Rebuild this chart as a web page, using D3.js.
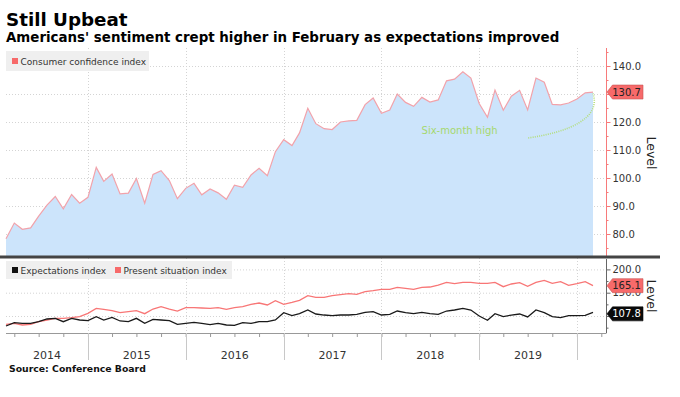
<!DOCTYPE html>
<html>
<head>
<meta charset="utf-8">
<script src="https://cdn.jsdelivr.net/npm/d3@7"></script>
<style>
  body { margin: 0; background: #fff; }
  svg { display: block; font-family: "DejaVu Sans", Verdana, sans-serif; }
</style>
</head>
<body>
<div id="chart"></div>
<script>
// monthly readings, Feb 2014 .. Feb 2020 (plotted at month end)
const firstMonth = new Date(2014, 1, 1);

const confidence = [
  78.3, 83.9, 81.7, 82.2, 86.4, 90.3, 93.4, 89.0, 94.1, 91.0, 93.1,
  103.8, 98.8, 101.4, 94.3, 94.6, 99.8, 91.0, 101.3, 102.6, 99.1, 92.6, 96.3,
  98.1, 94.0, 96.1, 94.7, 92.4, 97.4, 96.7, 101.1, 103.5, 100.8, 109.4, 113.7,
  111.6, 116.1, 124.9, 119.4, 117.6, 117.3, 120.0, 120.4, 120.6, 126.2, 128.6, 123.1,
  124.3, 130.0, 127.0, 125.6, 128.8, 127.1, 127.9, 134.7, 135.3, 137.9, 135.7, 126.6,
  121.7, 131.4, 124.2, 129.2, 131.3, 124.3, 135.7, 134.2, 126.3, 126.1, 126.8, 128.2,
  130.4, 130.7
];

const presentSituation = [
  82.2, 84.3, 80.7, 82.2, 87.8, 91.4, 95.0, 95.0, 96.4, 98.6, 105.7,
  116.4, 114.3, 111.4, 107.2, 109.3, 111.4, 105.0, 115.0, 120.0, 115.0, 110.7, 117.8,
  117.8, 117.2, 116.4, 117.8, 114.3, 117.8, 120.0, 125.0, 127.9, 123.6, 132.9, 125.0,
  129.3, 133.6, 143.6, 140.1, 140.1, 143.6, 145.8, 147.9, 146.5, 152.2, 154.4, 157.2,
  157.2, 161.5, 159.4, 157.2, 161.5, 162.2, 166.5, 172.2, 169.4, 172.2, 172.2, 170.1,
  170.1, 172.2, 162.9, 168.7, 171.5, 163.7, 172.2, 176.5, 170.1, 173.7, 165.8, 169.4,
  173.7, 165.1
];

const expectations = [
  78.5, 85.7, 84.2, 84.2, 87.8, 93.6, 95.0, 87.8, 95.0, 91.4, 90.0,
  98.6, 91.4, 97.1, 89.3, 87.8, 95.0, 84.2, 92.8, 91.4, 90.0, 82.2, 84.2,
  86.4, 84.3, 81.4, 84.3, 80.7, 80.0, 85.7, 84.3, 87.8, 87.8, 91.4, 107.1,
  100.7, 105.0, 112.9, 104.3, 102.1, 100.7, 102.1, 102.1, 103.6, 107.9, 109.3, 102.1,
  103.6, 110.7, 107.1, 105.0, 107.9, 105.0, 103.6, 110.7, 112.9, 116.5, 112.9, 100.0,
  90.7, 105.0, 98.6, 102.1, 104.3, 97.9, 112.9, 107.1, 98.6, 96.4, 100.7, 100.7,
  101.4, 107.8
];

const topTicks = [80, 90, 100, 110, 120, 130, 140];
const topLabelled = [80, 90, 100, 110, 120, 140];   // 130.0 sits under the badge
const topMinorTicks = [75, 85, 95, 105, 115, 125, 135, 145];
const bottomTicks = [100, 150, 200];
const bottomLabelled = [150, 200];                  // 100.0 sits under the badge
const bottomMinorTicks = [75, 125, 175];
const yearLabels = [2014, 2015, 2016, 2017, 2018, 2019];
const yearLines = [2015, 2016, 2017, 2018, 2019, 2020];

// "Six-month high" note and its dotted arc, in date/value space
const noteText = { date: new Date(2018, 9, 20), value: 117, label: "Six-month high" };
const noteArc = [
  { date: new Date(2019, 6, 3), value: 114.3 },
  { date: new Date(2019, 11, 3), value: 116.4 },
  { date: new Date(2020, 3, 1), value: 121.4 },
  { date: new Date(2020, 2, 1), value: 130.2 }
];

const dateOf = i => d3.timeMonth.offset(firstMonth, i + 1);
const toPoints = arr => arr.map((v, i) => ({ date: dateOf(i), value: v }));
const fmt = d3.format(".1f");

// layout
const W = 680, H = 397;
const plotLeft = 6, plotRight = 606.5;
const topPanel = { top: 48, bottom: 256 };
const botPanel = { top: 258, bottom: 333 };

const svg = d3.select("#chart").append("svg")
  .attr("width", W)
  .attr("height", H);

// scales
const x = d3.scaleTime()
  .domain([new Date(2014, 2, 1), new Date(2020, 2, 1)])
  .range([plotLeft, 593]);
const yTop = d3.scaleLinear().domain([80, 140]).range([234, 66]);
const yBot = d3.scaleLinear().domain([100, 200]).range([316, 269.4]);

// titles
svg.append("text")
  .attr("x", 6).attr("y", 26)
  .attr("font-size", 18.3).attr("font-weight", "bold").attr("fill", "#000")
  .text("Still Upbeat");
svg.append("text")
  .attr("x", 6).attr("y", 42)
  .attr("font-size", 13.4).attr("font-weight", "bold").attr("fill", "#000")
  .text("Americans' sentiment crept higher in February as expectations improved");

// gridlines
const grid = svg.append("g")
  .attr("stroke", "#d4d4d4").attr("stroke-dasharray", "1,2").attr("stroke-width", 1);
grid.selectAll(".hTop").data(topTicks).join("line")
  .attr("x1", plotLeft).attr("x2", plotRight)
  .attr("y1", d => yTop(d) + 0.5).attr("y2", d => yTop(d) + 0.5);
grid.selectAll(".hBot").data(bottomTicks).join("line")
  .attr("x1", plotLeft).attr("x2", plotRight)
  .attr("y1", d => yBot(d) + 0.5).attr("y2", d => yBot(d) + 0.5);
grid.selectAll(".vTop").data(yearLines).join("line")
  .attr("x1", d => Math.round(x(new Date(d, 0, 1))) + 0.5)
  .attr("x2", d => Math.round(x(new Date(d, 0, 1))) + 0.5)
  .attr("y1", topPanel.top).attr("y2", topPanel.bottom);
grid.selectAll(".vBot").data(yearLines).join("line")
  .attr("x1", d => Math.round(x(new Date(d, 0, 1))) + 0.5)
  .attr("x2", d => Math.round(x(new Date(d, 0, 1))) + 0.5)
  .attr("y1", botPanel.top).attr("y2", botPanel.bottom);

// top panel: consumer confidence area
const confPoints = toPoints(confidence);
const area = d3.area()
  .x(d => x(d.date))
  .y0(topPanel.bottom)
  .y1(d => yTop(d.value));
const line = d3.line()
  .x(d => x(d.date))
  .y(d => yTop(d.value));

svg.append("path")
  .datum(confPoints)
  .attr("fill", "#cce4fb")
  .attr("d", area);
svg.append("path")
  .datum(confPoints)
  .attr("fill", "none")
  .attr("stroke", "#f2a2aa")
  .attr("stroke-width", 1.2)
  .attr("d", line);

// annotation
svg.append("text")
  .attr("x", x(noteText.date)).attr("y", yTop(noteText.value))
  .attr("dy", "0.35em")
  .attr("text-anchor", "middle")
  .attr("font-size", 10)
  .attr("fill", "#a6d86e")
  .text(noteText.label);
const arc = d3.path();
const ap = noteArc.map(d => [x(d.date), yTop(d.value)]);
arc.moveTo(ap[0][0], ap[0][1]);
arc.bezierCurveTo(ap[1][0], ap[1][1], ap[2][0], ap[2][1], ap[3][0], ap[3][1]);
svg.append("path")
  .attr("d", arc.toString())
  .attr("fill", "none")
  .attr("stroke", "#b3de7c")
  .attr("stroke-width", 1.6)
  .attr("stroke-dasharray", "1,1.2");

// top legend
const legTop = svg.append("g");
legTop.append("rect")
  .attr("x", 6).attr("y", 51).attr("width", 143).attr("height", 20)
  .attr("fill", "#efefef");
legTop.append("rect")
  .attr("x", 12).attr("y", 58).attr("width", 6).attr("height", 6)
  .attr("fill", "#f76a6a");
legTop.append("text")
  .attr("x", 20.5).attr("y", 64.5)
  .attr("font-size", 9).attr("fill", "#333")
  .text("Consumer confidence index");

// top right axis (red)
svg.append("line")
  .attr("x1", plotRight).attr("x2", plotRight)
  .attr("y1", topPanel.top).attr("y2", topPanel.bottom)
  .attr("stroke", "#f77a7a");
const axTop = svg.append("g")
  .attr("transform", `translate(${plotRight},0)`)
  .call(d3.axisRight(yTop).tickValues(topTicks).tickSize(4).tickPadding(2)
    .tickFormat(d => topLabelled.includes(d) ? fmt(d) : ""));
axTop.select(".domain").remove();
axTop.selectAll(".tick line").attr("stroke", "#f77a7a");
axTop.selectAll(".tick text")
  .attr("font-size", 10).attr("fill", "#333")
  .attr("font-family", "DejaVu Sans, sans-serif");
const axTopMinor = svg.append("g")
  .attr("transform", `translate(${plotRight},0)`)
  .call(d3.axisRight(yTop).tickValues(topMinorTicks.filter(v => yTop(v) > topPanel.top && yTop(v) < topPanel.bottom))
    .tickSize(2).tickFormat(""));
axTopMinor.select(".domain").remove();
axTopMinor.selectAll(".tick line").attr("stroke", "#f77a7a");

// panel separator
svg.append("line")
  .attr("x1", 0).attr("x2", 660)
  .attr("y1", 257).attr("y2", 257)
  .attr("stroke", "#444").attr("stroke-width", 3);

// bottom panel lines
const lineBot = d3.line()
  .x(d => x(d.date))
  .y(d => yBot(d.value));
svg.append("path")
  .datum(toPoints(presentSituation))
  .attr("fill", "none")
  .attr("stroke", "#f87676")
  .attr("stroke-width", 1.3)
  .attr("d", lineBot);
svg.append("path")
  .datum(toPoints(expectations))
  .attr("fill", "none")
  .attr("stroke", "#1a1a1a")
  .attr("stroke-width", 1.3)
  .attr("d", lineBot);

// bottom legend
const legBot = svg.append("g");
legBot.append("rect")
  .attr("x", 6).attr("y", 261).attr("width", 226).attr("height", 18)
  .attr("fill", "#efefef");
legBot.append("rect")
  .attr("x", 12).attr("y", 267).attr("width", 6).attr("height", 6)
  .attr("fill", "#111");
legBot.append("text")
  .attr("x", 20.5).attr("y", 273.5)
  .attr("font-size", 9).attr("fill", "#333")
  .text("Expectations index");
legBot.append("rect")
  .attr("x", 115).attr("y", 267).attr("width", 6).attr("height", 6)
  .attr("fill", "#f76a6a");
legBot.append("text")
  .attr("x", 123.5).attr("y", 273.5)
  .attr("font-size", 9).attr("fill", "#333")
  .text("Present situation index");

// bottom right axis
svg.append("line")
  .attr("x1", plotRight).attr("x2", plotRight)
  .attr("y1", botPanel.top + 1).attr("y2", botPanel.bottom)
  .attr("stroke", "#666");
const axBot = svg.append("g")
  .attr("transform", `translate(${plotRight},0)`)
  .call(d3.axisRight(yBot).tickValues(bottomTicks).tickSize(4).tickPadding(2)
    .tickFormat(d => bottomLabelled.includes(d) ? fmt(d) : ""));
axBot.select(".domain").remove();
axBot.selectAll(".tick line").attr("stroke", "#666");
axBot.selectAll(".tick text")
  .attr("font-size", 10).attr("fill", "#333")
  .attr("font-family", "DejaVu Sans, sans-serif");
const axBotMinor = svg.append("g")
  .attr("transform", `translate(${plotRight},0)`)
  .call(d3.axisRight(yBot).tickValues(bottomMinorTicks).tickSize(2).tickFormat(""));
axBotMinor.select(".domain").remove();
axBotMinor.selectAll(".tick line").attr("stroke", "#666");

// "Level" titles
[153, 296].forEach(cy => {
  svg.append("text")
    .attr("transform", `translate(647,${cy}) rotate(90)`)
    .attr("text-anchor", "middle")
    .attr("font-size", 12.5).attr("fill", "#222")
    .text("Level");
});

// last-value badges
function badge(yPos, label, fill, color) {
  const p = d3.path();
  const h = 7, tip = plotRight + 0.5, right = 643;
  p.moveTo(tip, yPos);
  p.lineTo(tip + 5.5, yPos - h);
  p.lineTo(right, yPos - h);
  p.lineTo(right, yPos + h);
  p.lineTo(tip + 5.5, yPos + h);
  p.closePath();
  svg.append("path").attr("d", p.toString())
    .attr("fill", fill).attr("stroke", d3.color(fill).darker(0.6)).attr("stroke-width", 0.6);
  svg.append("text")
    .attr("x", 626.5).attr("y", yPos).attr("dy", "0.36em")
    .attr("text-anchor", "middle")
    .attr("font-size", 10).attr("fill", color)
    .text(label);
}
const last = arr => arr[arr.length - 1];
badge(yTop(last(confidence)), fmt(last(confidence)), "#f76a6a", "#222");
badge(yBot(last(presentSituation)), fmt(last(presentSituation)), "#f76a6a", "#222");
badge(yBot(last(expectations)) + 1.5, fmt(last(expectations)), "#0a0a0a", "#fff");

// x axis: quarter ticks, year separators, year labels
svg.append("line")
  .attr("x1", plotLeft).attr("x2", plotRight)
  .attr("y1", botPanel.bottom + 0.5).attr("y2", botPanel.bottom + 0.5)
  .attr("stroke", "#999");
const axX = svg.append("g")
  .attr("transform", `translate(0,${botPanel.bottom})`)
  .call(d3.axisBottom(x)
    .tickValues(d3.timeMonth.every(3).range(new Date(2014, 0, 1), new Date(2020, 4, 1))
      .filter(d => x(d) >= plotLeft && x(d) <= plotRight))
    .tickSize(4).tickFormat(""));
axX.select(".domain").remove();
axX.selectAll(".tick line").attr("stroke", "#999");

svg.append("g").selectAll("line").data(yearLines).join("line")
  .attr("x1", d => Math.round(x(new Date(d, 0, 1))) + 0.5)
  .attr("x2", d => Math.round(x(new Date(d, 0, 1))) + 0.5)
  .attr("y1", botPanel.bottom).attr("y2", 360)
  .attr("stroke", "#c8c8c8");

svg.append("g").selectAll("text").data(yearLabels).join("text")
  .attr("x", d => {
    const a = Math.max(x(new Date(d, 0, 1)), plotLeft);
    const b = Math.min(x(new Date(d + 1, 0, 1)), plotRight);
    return (a + b) / 2;
  })
  .attr("y", 358.5)
  .attr("text-anchor", "middle")
  .attr("font-size", 11).attr("fill", "#333")
  .text(d => d);

// source
svg.append("text")
  .attr("x", 9).attr("y", 371.5)
  .attr("font-size", 9.3).attr("font-weight", "bold").attr("fill", "#111")
  .text("Source: Conference Board");
</script>
</body>
</html>
